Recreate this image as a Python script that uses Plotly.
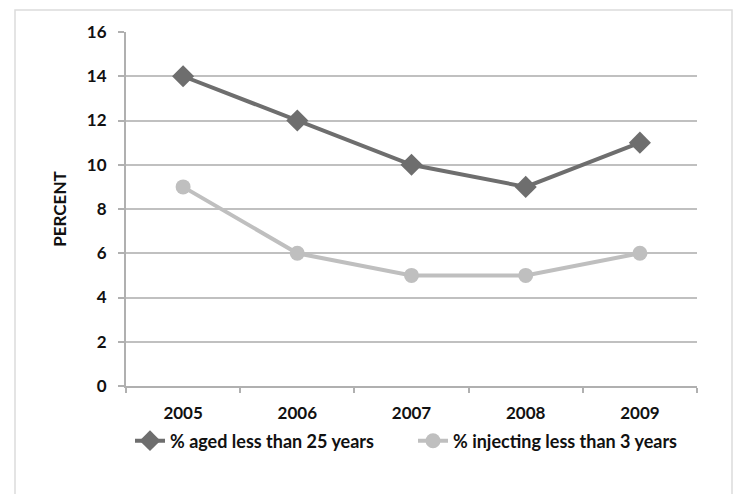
import plotly.graph_objects as go

years = ["2005", "2006", "2007", "2008", "2009"]
aged_under_25 = [14, 12, 10, 9, 11]
injecting_under_3 = [9, 6, 5, 5, 6]
y_ticks = [0, 2, 4, 6, 8, 10, 12, 14, 16]

FONT = "Lato"
W, H = 736, 494
L, R, T, B = 126, 39, 32, 108

pw, ph = W - L - R, H - T - B
def px_x(v):
    return (v - L) / pw
def px_y(v):
    return (H - B - v) / ph

fig = go.Figure()
fig.add_trace(go.Scatter(
    x=years, y=aged_under_25, name="% aged less than 25 years",
    mode="lines+markers",
    line=dict(color="#6e6e6e", width=4),
    marker=dict(symbol="diamond", size=17, color="#6e6e6e"),
    legend="legend",
))
fig.add_trace(go.Scatter(
    x=years, y=injecting_under_3, name="% injecting less than 3 years",
    mode="lines+markers",
    line=dict(color="#bfbfbf", width=4),
    marker=dict(symbol="circle", size=15, color="#bfbfbf"),
    legend="legend2",
))

# outer frame around the chart area
fig.add_shape(type="rect", xref="paper", yref="paper",
              x0=px_x(15), x1=px_x(732), y0=px_y(505), y1=px_y(10),
              line=dict(color="#dcdcdc", width=1.5), fillcolor="rgba(0,0,0,0)",
              layer="below")

legend_font = dict(family=FONT, size=18, weight="bold", color="#111111")
tick_font = dict(family=FONT, size=17, weight="bold", color="#111111")
fig.update_layout(
    width=W, height=H,
    margin=dict(l=L, r=R, t=T, b=B),
    paper_bgcolor="white", plot_bgcolor="white",
    font=dict(family=FONT, color="#111111", size=16),
    showlegend=True,
    legend=dict(orientation="h", x=px_x(130), xanchor="left", y=px_y(441), yanchor="middle",
                font=legend_font, itemwidth=30, bgcolor="rgba(0,0,0,0)"),
    legend2=dict(orientation="h", x=px_x(413), xanchor="left", y=px_y(441), yanchor="middle",
                 font=legend_font, itemwidth=30, bgcolor="rgba(0,0,0,0)"),
    xaxis=dict(
        type="category", range=[-0.5, 4.5],
        showgrid=False, showline=True, linecolor="#b0b0b0", linewidth=2,
        ticks="outside", ticklen=5, tickcolor="#b0b0b0", tickwidth=1.5,
        tickson="boundaries",
        tickfont=tick_font,
        ticklabelstandoff=11,
    ),
    yaxis=dict(
        range=[0, 16], tickvals=y_ticks,
        showgrid=True, gridcolor="#c0c0c0", gridwidth=2,
        showline=True, linecolor="#b0b0b0", linewidth=2,
        ticks="outside", ticklen=6, tickcolor="#b0b0b0", tickwidth=1.5,
        zeroline=False,
        tickfont=tick_font,
        ticklabelstandoff=8,
        title=dict(text="PERCENT", standoff=16,
                   font=dict(family=FONT, size=17, weight="bold", color="#111111")),
    ),
)

fig.write_html("out.html")
